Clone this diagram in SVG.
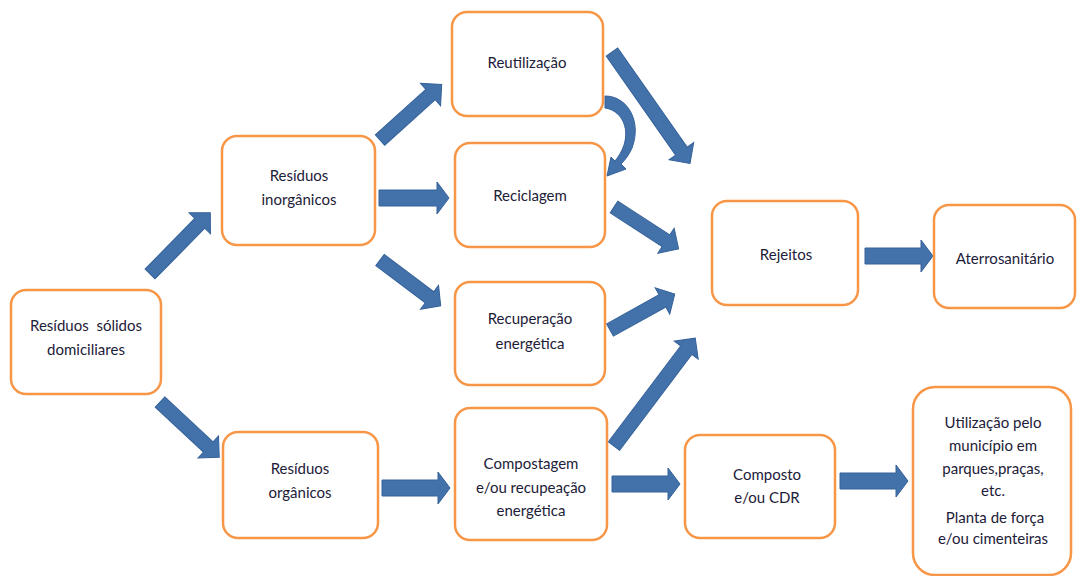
<svg xmlns="http://www.w3.org/2000/svg" width="1078" height="576" viewBox="0 0 1078 576">
<style>
.n{fill:#fff;stroke:#f79646;stroke-width:2.5}
.t{font-family:Lato,"Liberation Sans",sans-serif;font-size:15px;fill:#1c2038;text-anchor:middle}
.p{white-space:pre}
.a{fill:#4372aa;stroke:#34619a;stroke-width:1}
</style>
<rect width="1078" height="576" fill="#fff"/>
<g id="connectors">
<polygon class="a" transform="translate(150,274) rotate(-45.5)" points="0,-7 71,-7 71,-15 86,0 71,15 71,7 0,7"/>
<polygon class="a" transform="translate(160,402) rotate(43)" points="0,-7 66,-7 66,-15 81,0 66,15 66,7 0,7"/>
<polygon class="a" transform="translate(380,140) rotate(-42)" points="0,-7 68,-7 68,-15 83,0 68,15 68,7 0,7"/>
<polygon class="a" transform="translate(379,198)" points="0,-8 58,-8 58,-16 70,0 58,16 58,8 0,8"/>
<polygon class="a" transform="translate(380,260) rotate(37)" points="0,-7 62,-7 62,-15 76,0 62,15 62,7 0,7"/>
<polygon class="a" transform="translate(612,52) rotate(55)" points="0,-7 121,-7 121,-15 136,0 121,15 121,7 0,7"/>
<polygon class="a" transform="translate(614,207) rotate(33)" points="0,-7 62,-7 62,-15 77,0 62,15 62,7 0,7"/>
<polygon class="a" transform="translate(610,330) rotate(-29)" points="0,-7 60,-7 60,-15 74,0 60,15 60,7 0,7"/>
<polygon class="a" transform="translate(614,446) rotate(-53)" points="0,-7 120,-7 120,-15 135,0 120,15 120,7 0,7"/>
<polygon class="a" transform="translate(382,488)" points="0,-8 56,-8 56,-16 68,0 56,16 56,8 0,8"/>
<polygon class="a" transform="translate(612,484)" points="0,-8 56,-8 56,-16 68,0 56,16 56,8 0,8"/>
<polygon class="a" transform="translate(840,481)" points="0,-8 56,-8 56,-16 68,0 56,16 56,8 0,8"/>
<polygon class="a" transform="translate(865,256)" points="0,-8 56,-8 56,-16 68,0 56,16 56,8 0,8"/>
<path class="a" d="M605,96 C628,96 642,122 632,148 C629,155 625,160 621,164 L626,169 L607,176 L611,157 L615,161 C619,156 622,151 624,145 C630,126 620,110 605,108 Z"/>
</g>
<g id="n-solidos"><rect class="n" x="11" y="290" width="150" height="104" rx="15"/><text class="t p" x="86" y="331">Resíduos  sólidos</text><text class="t" x="86" y="355">domiciliares</text></g>
<g id="n-inorg"><rect class="n" x="222" y="136" width="153" height="109" rx="15"/><text class="t" x="299" y="181">Resíduos</text><text class="t" x="299" y="205">inorgânicos</text></g>
<g id="n-reut"><rect class="n" x="452" y="12" width="151" height="104" rx="15"/><text class="t" x="527" y="68">Reutilização</text></g>
<g id="n-recic"><rect class="n" x="455" y="143" width="150" height="104" rx="15"/><text class="t" x="530" y="201">Reciclagem</text></g>
<g id="n-recup"><rect class="n" x="455" y="282" width="150" height="103" rx="15"/><text class="t" x="530" y="324">Recuperação</text><text class="t" x="530" y="349">energética</text></g>
<g id="n-compostagem"><rect class="n" x="455" y="408" width="152" height="132" rx="15"/><text class="t" x="531" y="469">Compostagem</text><text class="t" x="531" y="493">e/ou recupeação</text><text class="t" x="531" y="516">energética</text></g>
<g id="n-org"><rect class="n" x="223" y="432" width="155" height="106" rx="15"/><text class="t" x="300" y="474">Resíduos</text><text class="t" x="300" y="498">orgânicos</text></g>
<g id="n-rejeitos"><rect class="n" x="712" y="201" width="146" height="104" rx="15"/><text class="t" x="786" y="260">Rejeitos</text></g>
<g id="n-aterro"><rect class="n" x="934" y="205" width="141" height="103" rx="15"/><text class="t" x="1005" y="264">Aterrosanitário</text></g>
<g id="n-composto"><rect class="n" x="685" y="435" width="150" height="103" rx="15"/><text class="t" x="767" y="480">Composto</text><text class="t" x="767" y="503">e/ou CDR</text></g>
<g id="n-util"><rect class="n" x="913" y="387" width="158" height="188" rx="22"/><text class="t" x="993" y="428">Utilização pelo</text><text class="t" x="993" y="451">município em</text><text class="t" x="993" y="474">parques,praças,</text><text class="t" x="993" y="496">etc.</text><text class="t p" x="993" y="523"> Planta de força</text><text class="t" x="993" y="544">e/ou cimenteiras</text></g>
</svg>
